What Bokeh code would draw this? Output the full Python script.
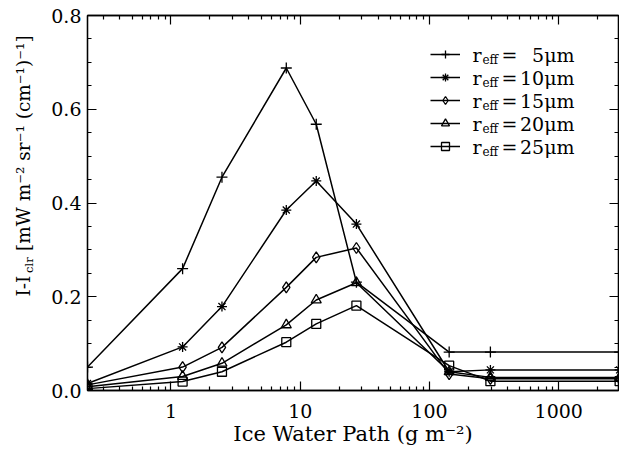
import math
from bokeh.plotting import figure
from bokeh.layouts import row
from bokeh.models import (LogAxis, LinearAxis, FixedTicker, PrintfTickFormatter,
                          CustomJSTickFormatter, Range1d, Legend, LegendItem, Label)
from bokeh.embed import file_html
from bokeh.resources import INLINE

# ---------------- data ----------------
iwp = [0.226, 1.23, 2.48, 7.8, 13.3, 27.2, 142.0, 296.0, 2960.0]
r05 = [0.050, 0.260, 0.455, 0.688, 0.568, 0.231, 0.082, 0.082, 0.082]
r10 = [0.015, 0.093, 0.179, 0.385, 0.447, 0.355, 0.040, 0.044, 0.044]
r15 = [0.012, 0.050, 0.092, 0.220, 0.284, 0.304, 0.035, 0.025, 0.025]
r20 = [0.008, 0.030, 0.058, 0.140, 0.193, 0.230, 0.040, 0.028, 0.028]
r25 = [0.004, 0.019, 0.040, 0.103, 0.142, 0.181, 0.053, 0.020, 0.020]
radii = ["5", "10", "15", "20", "25"]
series = [r05, r10, r15, r20, r25]

x_ticks = [1, 10, 100, 1000]
x_minor = [0.3, 0.4, 0.5, 0.6, 0.7, 0.8, 0.9,
           2, 3, 4, 5, 6, 7, 8, 9,
           20, 30, 40, 50, 60, 70, 80, 90,
           200, 300, 400, 500, 600, 700, 800, 900, 2000]
y_ticks = [0.0, 0.2, 0.4, 0.6, 0.8]
y_minor = [0.05, 0.1, 0.15, 0.25, 0.3, 0.35, 0.45, 0.5, 0.55, 0.65, 0.7, 0.75]

x_label = "Ice Water Path (g m\u207b\u00b2)"
y_label_main = "I-I"
y_label_sub = "clr"
y_label_rest = "[mW m\u207b\u00b2 sr\u207b\u00b9 (cm\u207b\u00b9)\u207b\u00b9]"

# ---------------- style ----------------
FONT = "DejaVu Serif"
INK = "black"
markers = ["cross", "asterisk", "diamond", "triangle", "square"]
sizes = [11, 10, 11, 10, 9]

W, H = 619, 452
LW = 45                      # width of the strip that carries the y title
L, R, T, B = 87 - LW, 1, 15, 62
PW = W - LW
fw, fh = PW - L - R, H - T - B

p = figure(width=PW, height=H, x_axis_type="log",
           x_range=Range1d(0.226, 2900), y_range=Range1d(0, 0.8),
           min_border_left=L, min_border_right=R, min_border_top=T, min_border_bottom=B,
           toolbar_location=None, output_backend="svg")
p.grid.visible = False
p.outline_line_color = INK
p.outline_line_width = 1.3

def style_axis(ax, labels=True):
    ax.axis_line_color = INK
    ax.axis_line_width = 1.3
    ax.major_tick_line_color = INK
    ax.minor_tick_line_color = INK
    ax.major_tick_line_width = 1.2
    ax.minor_tick_line_width = 1.2
    ax.major_tick_in = 9
    ax.major_tick_out = 0
    ax.minor_tick_in = 4
    ax.minor_tick_out = 0
    ax.major_label_text_font = FONT
    ax.major_label_text_font_size = "19px"
    ax.major_label_text_color = INK
    if not labels:
        ax.formatter = CustomJSTickFormatter(code="return ''")
        ax.major_label_standoff = 0
        ax.major_label_text_font_size = "0px"

xa = p.xaxis[0]
xa.ticker = FixedTicker(ticks=x_ticks, minor_ticks=x_minor)
xa.formatter = PrintfTickFormatter(format="%d")
style_axis(xa)
xa.major_label_standoff = 13
xa.axis_label = x_label
xa.axis_label_text_font = FONT
xa.axis_label_text_font_size = "21px"
xa.axis_label_text_font_style = "normal"
xa.axis_label_text_color = INK
xa.axis_label_standoff = 1

ya = p.yaxis[0]
ya.ticker = FixedTicker(ticks=y_ticks, minor_ticks=y_minor)
ya.formatter = PrintfTickFormatter(format="%.1f")
style_axis(ya)
ya.major_label_standoff = 6

top = LogAxis(ticker=FixedTicker(ticks=x_ticks, minor_ticks=x_minor))
style_axis(top, labels=False)
p.add_layout(top, "above")
right = LinearAxis(ticker=FixedTicker(ticks=y_ticks, minor_ticks=y_minor))
style_axis(right, labels=False)
p.add_layout(right, "right")

items = []
for i, vals in enumerate(series):
    ln = p.line(iwp, vals, line_color=INK, line_width=1.5)
    sc = p.scatter(iwp, vals, marker=markers[i], size=sizes[i],
                   line_color=INK, line_width=1.3, fill_color=None)
    items.append(LegendItem(label=" ", renderers=[ln, sc]))

# legend keys (library legend); label texts drawn beside them
X0 = LW + L                                   # canvas x of the frame's left edge
leg_left, leg_top = 430 - X0, 44 - T          # frame coordinates
row_h, row_gap = 20, 3
n = len(items)
leg_h = n * row_h + (n - 1) * row_gap
legend = Legend(items=items, location=(leg_left, fh - leg_top - leg_h),
                glyph_width=30, glyph_height=row_h, label_height=row_h,
                label_width=0, label_standoff=0, spacing=row_gap,
                padding=0, margin=0, border_line_color=None,
                background_fill_alpha=0, label_text_font_size="1px")
p.add_layout(legend, "center")

for i, r in enumerate(radii):
    cy = fh - (leg_top + i * (row_h + row_gap) + row_h / 2)
    common = dict(x_units="screen", y_units="screen", text_font=FONT, text_color=INK,
                  text_baseline="middle")
    p.add_layout(Label(x=472 - X0, y=cy, text="r", text_font_size="19px",
                       text_align="left", **common))
    p.add_layout(Label(x=482 - X0, y=cy - 5, text="eff", text_font_size="12px",
                       text_align="left", **common))
    p.add_layout(Label(x=501 - X0, y=cy, text="=", text_font_size="19px",
                       text_align="left", **common))
    p.add_layout(Label(x=574 - X0, y=cy, text=r + "\u03bcm", text_font_size="19px",
                       text_align="right", **common))

# strip on the left carrying the y title (composed so that "clr" is a subscript)
lab = figure(width=LW, height=H, x_range=Range1d(0, LW), y_range=Range1d(0, H),
             x_axis_location=None, y_axis_location=None, toolbar_location=None,
             min_border=0, output_backend="svg")
lab.grid.visible = False
lab.outline_line_color = None
YFS = 18.5
base_x = 23
start_y = H - 358
rot = dict(x_units="screen", y_units="screen", angle=math.pi / 2, angle_units="rad",
           text_font=FONT, text_color=INK, text_align="left", text_baseline="alphabetic")
w_main = 1.274 * YFS
w_sub = 1.391 * 11.5
lab.add_layout(Label(x=base_x, y=start_y, text=y_label_main,
                     text_font_size=f"{YFS}px", **rot))
lab.add_layout(Label(x=base_x + 5, y=start_y + w_main, text=y_label_sub,
                     text_font_size="11.5px", **rot))
lab.add_layout(Label(x=base_x, y=start_y + w_main + w_sub + 6, text=y_label_rest,
                     text_font_size=f"{YFS}px", **rot))

layout = row(lab, p, spacing=0)
open("out.html", "w").write(file_html(layout, INLINE))
